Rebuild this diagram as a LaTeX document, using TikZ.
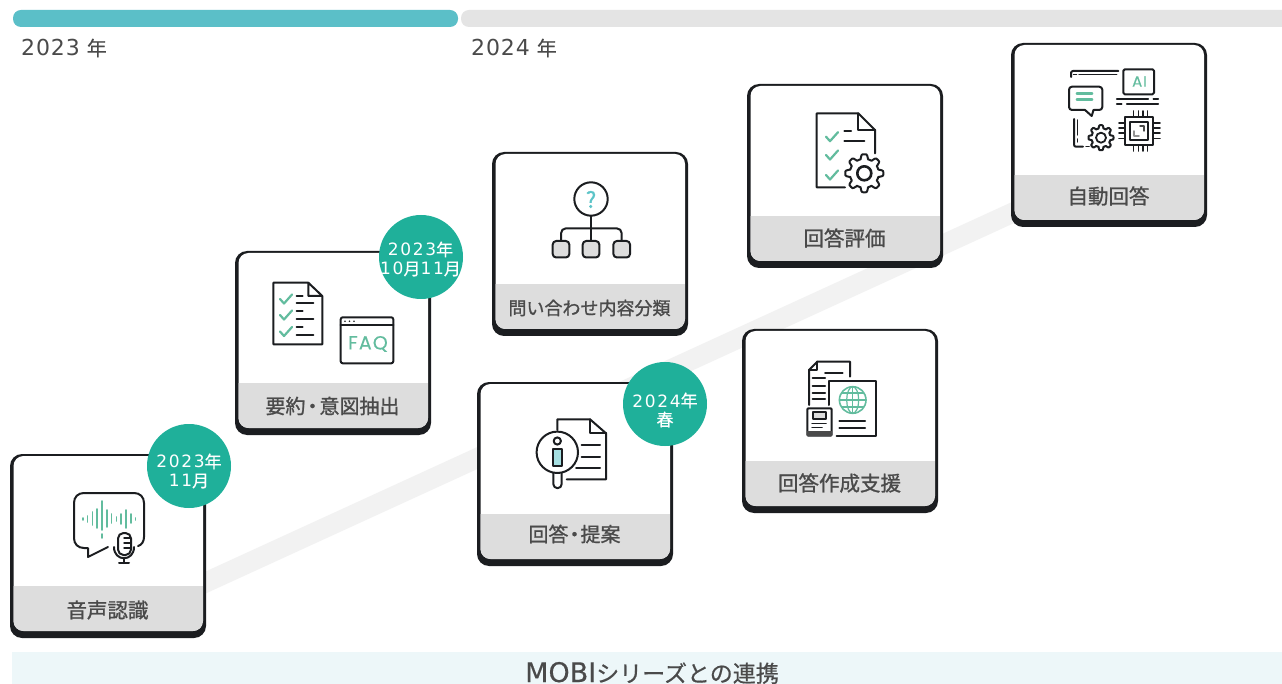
\documentclass[tikz,border=0pt]{standalone}
\usepackage{fontspec}
\setmainfont{Noto Sans CJK JP}[FakeBold=0.5]
\newfontfamily\lblfont{Noto Sans CJK JP}[FakeBold=1.1]
\newfontfamily\numfont{DejaVu Sans}[LetterSpace=10]
\newfontfamily\yearfont{DejaVu Sans}[LetterSpace=4]
\newfontfamily\icofont{Poppins}[LetterSpace=6,FakeBold=0.3]
\newfontfamily\mobifont{DejaVu Sans}[FakeBold=0.4]
\definecolor{cteal}{HTML}{5BBFC8}
\definecolor{cbar}{HTML}{E4E4E4}
\definecolor{cband}{HTML}{DDDDDD}
\definecolor{cdark}{HTML}{1B1D20}
\definecolor{cbadge}{HTML}{1FB09A}
\definecolor{ctext}{HTML}{4A4A4A}
\definecolor{cgreen}{HTML}{62BC9E}
\definecolor{cpath}{HTML}{F2F2F2}
\definecolor{cfoot}{HTML}{EDF7F9}
\definecolor{cq}{HTML}{5CC4C8}
\tikzset{
  cardouter/.style={fill=cdark,rounded corners=12pt,minimum width=196pt,minimum height=184pt,inner sep=0pt,outer sep=0pt},
  cardlabel/.style={text=ctext,inner sep=0pt},
  badge/.style={circle,fill=cbadge,minimum size=84pt,inner sep=0pt},
  badgetext/.style={inner sep=0pt,text=white,align=center,font=\fontsize{17pt}{19pt}\selectfont},
  yearlabel/.style={text=ctext,inner sep=0pt,anchor=west,font=\fontsize{20pt}{24pt}\selectfont},
  ico/.style={draw=cdark,line width=2pt,line cap=round,line join=round},
  icg/.style={draw=cgreen,line width=2.2pt,line cap=round,line join=round},
  pathband/.style={draw=cpath,line width=20pt}
}
\newcommand{\cardat}[6]{% name x y label labelsize labely
  \node[cardouter,anchor=north west] (#1) at (#2,#3) {};
  \begin{scope}[shift={(#2,#3)}]
    \fill[white,rounded corners=10pt] (3.5,2) rectangle (193,177);
    \begin{scope}
      \clip[rounded corners=10pt] (3.5,2) rectangle (193,177);
      \fill[cband] (3,132) rectangle (193,177);
    \end{scope}
    \node[cardlabel,font=\lblfont\fontsize{#5pt}{24pt}\selectfont] (#1l) at (97.5,#6) {#4};
  \end{scope}
}
\newcommand{\icchk}[2]{\draw[icg] (#1,#2) -- ++(4,4.5) -- ++(8,-9);}
\newcommand{\icgear}[4]{% x y R n
  \draw[ico,fill=white] plot[domain=0:360,samples=121]
   ({#1+#3*(0.88+0.12*max(min(2*cos(#4*\x),1),-1))*cos(\x)},{#2+#3*(0.88+0.12*max(min(2*cos(#4*\x),1),-1))*sin(\x)}) -- cycle;}
\begin{document}
\begin{tikzpicture}[x=1pt,y=-1pt]
\useasboundingbox (0,0) rectangle (1282,684);
\clip (0,0) rectangle (1282,684);
\fill[white] (0,0) rectangle (1282,684);
% timeline
\fill[cbar,rounded corners=8pt] (461,10) rectangle (1300,27);
\fill[cteal,rounded corners=8pt] (13,10) rectangle (458,27);
\node[yearlabel] (y23) at (21,48) {{\yearfont\fontsize{22pt}{24pt}\selectfont 2023}\kern7pt 年};
\node[yearlabel] (y24) at (471,48) {{\yearfont\fontsize{22pt}{24pt}\selectfont 2024}\kern7pt 年};
% footer
\fill[cfoot] (12,652) rectangle (1282,690);
\node[text=ctext,inner sep=0pt,anchor=base,font=\fontsize{23pt}{28pt}\selectfont] (foot) at (652,682) {{\mobifont\fontsize{27pt}{28pt}\selectfont MOBI}シリーズとの連携};
% path band
\coordinate (pa) at (150,608);
\coordinate (pb) at (1060,191);
\draw[pathband] (pa) -- (pb);
% cards
\cardat{c1}{10}{454}{音声認識}{20.5}{156}
\cardat{c2}{235}{251}{要約\kern-3pt・\kern-3pt意図抽出}{20}{155}
\cardat{c3}{477}{382}{回答\kern-4pt・\kern-4pt提案}{20}{152}
\cardat{c4}{492}{152}{問い合わせ内容分類}{18}{156}
\cardat{c5}{747}{84}{回答評価}{20.5}{154}
\cardat{c6}{742}{329}{回答作成支援}{20.5}{154}
\cardat{c7}{1011}{43}{自動回答}{20.5}{153}
% badges
\node[badge] (b1) at (189,466) {};
\node[badgetext] (b1t) at (189,471) {{\numfont 2023}年\\{\numfont 11}月};
\node[badge] (b2) at (421,257) {};
\node[badgetext] (b2t) at (420.5,259) {{\numfont 2023}年\\{\numfont 10}月{\numfont 11}月};
\node[badge] (b3) at (665,404) {};
\node[badgetext] (b3t) at (665,410) {{\numfont 2024}年\\春};
% icon 1: speech with mic
\draw[ico] (108,547) -- (88,557) -- (88,548) -- (84,548)
  .. controls (78,548) and (74,544) .. (74,538) -- (74,503)
  .. controls (74,497) and (78,493) .. (84,493) -- (134,493)
  .. controls (140,493) and (144,497) .. (144,503) -- (144,537)
  .. controls (144,541) and (142,545) .. (138,546);
\foreach \bx/\bt/\bb in {82.7/518/520,87.5/516/522,92.3/512/525,97.1/509/528,101.9/501/530,106.7/510/527,111.5/514/523,116.3/517/521,121.1/514/524,125.9/510/528,130.7/514/523,135.5/518/520}
  \draw[icg,line width=1.6pt] (\bx,\bt) -- (\bx,\bb);
\draw[icg,line width=1.6pt] (101.9,534) -- (101.9,538);
\draw[ico,fill=white,rounded corners=5.5pt] (118,533) rectangle (131,555);
\foreach \my in {538,543,548} \draw[ico,line width=1.5pt] (124,\my) -- (130,\my);
\draw[ico] (114,547) .. controls (114,562) and (134,562) .. (134,547);
\draw[ico] (124,558) -- (124,563);
\draw[ico] (119,563) -- (129,563);
% icon 2: checklist + FAQ
\draw[ico] (308.3,282.7) -- (273.3,282.7) -- (273.3,344.3) -- (322.3,344.3) -- (322.3,296) -- (308.3,282.7) -- (308.3,296) -- (322.3,296);
\icchk{280}{299}\icchk{280}{315}\icchk{280}{331.5}
\foreach \ly in {296,311,327.3} \draw[ico] (296.7,\ly) -- (302.7,\ly);
\foreach \ly in {303.3,319,335} \draw[ico] (296.7,\ly) -- (313.3,\ly);
\draw[ico,rounded corners=2pt] (340.7,317.3) rectangle (393.3,363.3);
\draw[ico] (340.7,325.5) -- (393.3,325.5);
\foreach \dx in {345,349.5,354} \fill[cdark] (\dx,321.3) circle (0.9);
\node[text=cgreen,inner sep=0pt,font=\icofont\fontsize{19pt}{20pt}\selectfont] (faq) at (368,344) {FAQ};
% icon 3: info doc
\draw[ico] (557.3,430) -- (557.3,419.3) -- (590,419.3) -- (606,433.3) -- (606,479.3) -- (566.7,479.3);
\draw[ico] (590,419.3) -- (590,433.3) -- (606,433.3);
\draw[ico] (581.7,445) -- (600,445);
\draw[ico] (581.7,456.7) -- (600,456.7);
\draw[ico] (576,468.3) -- (600,468.3);
\draw[ico,fill=white] (553.3,473) -- (553.3,484) arc[start angle=180,end angle=0,radius=4.2] -- (561.7,473);
\draw[ico,fill=white] (557.3,452.3) circle (20.7);
\draw[ico] (557.3,441) circle (3.6);
\draw[ico,fill=cq!55] (553.3,449) rectangle (561.7,465.7);
% icon 4: hierarchy
\draw[ico] (591,215.7) -- (591,241);
\draw[ico,rounded corners=5pt] (561,241) -- (561,228.3) -- (621.7,228.3) -- (621.7,241);
\draw[ico,fill=white] (591,199) circle (16.7);
\node[text=cq,inner sep=0pt,font=\lblfont\fontsize{22pt}{24pt}\selectfont] (qm) at (591,199.5) {?};
\foreach \hx in {561,591,621.7}
  \draw[ico,fill=cband,rounded corners=3.5pt] (\hx-8.3,241) rectangle (\hx+8.3,257.5);
% icon 5: doc + gear
\draw[ico] (845,187.3) -- (816.7,187.3) -- (816.7,113.3) -- (858.3,113.3) -- (875,130) -- (875,153.3);
\draw[ico] (858.3,113.3) -- (858.3,130) -- (875,130);
\icchk{826}{136.7}\icchk{826}{155}\icchk{826}{175}
\draw[ico] (844.3,131) -- (851,131);
\draw[ico] (844.3,140.7) -- (864.3,140.7);
\icgear{864.3}{173.3}{19}{8}
\draw[ico,line width=2.6pt] (864.3,173.3) circle (7);
% icon 6: docs + globe
\draw[ico] (809,405) -- (809,370) -- (817.3,361.7) -- (850,361.7) -- (850,376.7);
\draw[ico] (817.3,361.7) -- (817.3,370) -- (809,370);
\draw[ico] (825,372.7) -- (842.7,372.7);
\draw[ico] (812.7,378.3) -- (825,378.3);
\foreach \ly in {386,393.3,399} \draw[ico] (812.7,\ly) -- (825,\ly);
\draw[ico] (829.3,405) -- (829.3,381) -- (875.7,381) -- (875.7,435.7) -- (836.7,435.7);
\draw[icg,line width=1.6pt] (852.7,400) circle (13.3);
\draw[icg,line width=1.2pt] (852.7,400) ellipse (6 and 13.3);
\draw[icg,line width=1.2pt] (852.7,386.7) -- (852.7,413.3);
\draw[icg,line width=1.2pt] (839.4,400) -- (866,400);
\draw[icg,line width=1.2pt] (841.5,393) -- (863.9,393);
\draw[icg,line width=1.2pt] (841.5,407) -- (863.9,407);
\draw[ico] (839.3,420.7) -- (865,420.7);
\draw[ico] (839.3,428.3) -- (865,428.3);
\draw[ico,fill=white,rounded corners=1pt] (807.3,408.3) rectangle (831.7,435.7);
\fill[ctext] (807.3,431) rectangle (831.7,435.7);
\draw[ico,fill=cband] (812.7,412.3) rectangle (826,419);
\draw[ico,line width=1.5pt] (812,423.3) -- (826,423.3);
\draw[ico,line width=1.5pt] (812,427.3) -- (822,427.3);
% icon 7: AI
\draw[ico,rounded corners=2pt] (1071,77) -- (1071,71) -- (1118.3,71);
\draw[ico,line width=1.5pt] (1079,74.5) -- (1116.7,74.5);
\draw[ico,line width=1.5pt] (1073.5,74.5) -- (1076.5,74.5);
\draw[ico,rounded corners=1.5pt] (1123.3,69.3) rectangle (1154,94.3);
\node[text=cgreen,inner sep=0pt,font=\icofont\fontsize{15pt}{16pt}\selectfont] (ai) at (1139.5,81.5) {AI};
\draw[ico,line width=1.5pt] (1116.7,99) -- (1148.3,99);
\draw[ico,line width=1.5pt] (1153.3,99) -- (1158.3,99);
\draw[ico,line width=1.5pt] (1116.7,104) -- (1121.7,104);
\draw[ico,line width=1.5pt] (1126.7,104) -- (1158.3,104);
\draw[ico,rounded corners=3pt] (1085,110) -- (1069,110) -- (1069,86.7) -- (1102.3,86.7) -- (1102.3,110) -- (1093.5,110);
\draw[ico] (1085,110) -- (1091.7,116) -- (1093.5,110);
\draw[icg] (1076.7,93.5) -- (1092.3,93.5);
\draw[icg] (1076.7,99.5) -- (1092.3,99.5);
\draw[ico,rounded corners=2pt] (1074,119) -- (1074,146.7) -- (1083,146.7);
\draw[ico,line width=1.5pt] (1077.7,120) -- (1077.7,135);
\draw[ico,line width=1.5pt] (1077.7,139) -- (1077.7,142);
\draw[ico,line width=1.5pt] (1086,146.7) -- (1089,146.7);
\icgear{1101}{137.7}{12.5}{8}
\draw[ico,line width=1.8pt] (1101,137.7) circle (5);
\foreach \px in {1133.3,1138.3,1142.7,1147.3} {
  \draw[ico,line width=1.6pt] (\px,111) -- (\px,116.7);
  \draw[ico,line width=1.6pt] (\px,145) -- (\px,151);
}
\foreach \py in {123.3,128.3,133.3,138.7} {
  \draw[ico,line width=1.6pt] (1119,\py) -- (1125,\py);
  \draw[ico,line width=1.6pt] (1153.3,\py) -- (1160,\py);
}
\draw[ico] (1125,116.7) rectangle (1153.3,145);
\draw[ico] (1130,121.7) rectangle (1148.3,140);
\draw[ico,line width=1.5pt,draw=ctext] (1140,126) -- (1144,126) -- (1144,131);
\draw[ico,line width=1.5pt,draw=ctext!60] (1134,131) -- (1134,136) -- (1139,136);
\end{tikzpicture}
\end{document}
